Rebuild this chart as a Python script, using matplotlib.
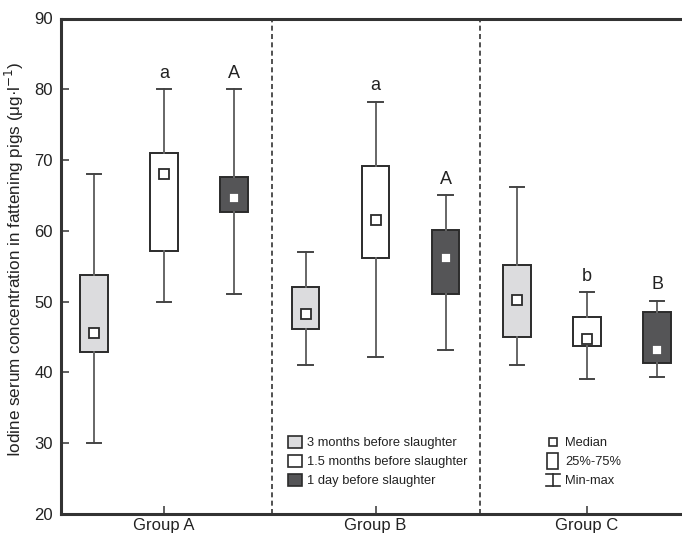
import matplotlib
matplotlib.use("Agg")
import matplotlib.pyplot as plt
from matplotlib.patches import Patch, Rectangle
from matplotlib.lines import Line2D
from matplotlib.legend_handler import HandlerBase

plt.rcParams['font.family'] = ['Liberation Sans', 'DejaVu Sans']

groups = ["Group A", "Group B", "Group C"]
periods = ["3 months before slaughter", "1.5 months before slaughter", "1 day before slaughter"]
colors = ["#dcdcde", "#ffffff", "#555557"]

# per group: [3 months, 1.5 months, 1 day]
mins = [[30.0, 50.0, 51.1], [41.1, 42.2, 43.2], [41.1, 39.1, 39.3]]
q1s = [[42.9, 57.2, 62.7], [46.2, 56.2, 51.1], [45.0, 43.7, 41.4]]
meds = [[45.6, 68.0, 64.6], [48.2, 61.5, 56.1], [50.3, 44.7, 43.2]]
q3s = [[53.7, 71.0, 67.6], [52.0, 69.1, 60.1], [55.2, 47.8, 48.6]]
maxs = [[68.0, 80.0, 80.0], [57.0, 78.2, 65.0], [66.2, 51.3, 50.1]]
letters = [["", "a", "A"], ["", "a", "A"], ["", "b", "B"]]

W, H = 682, 536
fig = plt.figure(figsize=(W / 100, H / 100), dpi=100)
ax = fig.add_axes([61 / W, (H - 514) / H, (W - 61) / W, (514 - 18.5) / H])

offsets = [-0.331, 0.0, 0.331]
ink = "#2b2b2b"
for gi in range(3):
    for pi in range(3):
        pos = gi + 1 + offsets[pi]
        st = dict(med=meds[gi][pi], q1=q1s[gi][pi], q3=q3s[gi][pi],
                  whislo=mins[gi][pi], whishi=maxs[gi][pi], fliers=[])
        ax.bxp([st], positions=[pos], widths=0.132, capwidths=0.07,
               patch_artist=True, showfliers=False,
               boxprops=dict(facecolor=colors[pi], edgecolor=ink, linewidth=1.4),
               whiskerprops=dict(color="#666666", linewidth=1.4),
               capprops=dict(color="#444444", linewidth=1.4),
               medianprops=dict(linewidth=0, color="none"),
               manage_ticks=False, zorder=3)
        ax.plot([pos], [meds[gi][pi]], marker='s', markersize=6.5,
                markerfacecolor='white', markeredgecolor=ink if pi < 2 else '#555557',
                markeredgewidth=1.3, zorder=5)
        if letters[gi][pi]:
            ax.text(pos, maxs[gi][pi] + 2.3, letters[gi][pi], ha='center', va='center',
                    fontsize=13, color='#222222')

for xv in [1.51, 2.494]:
    ax.axvline(xv, color="#333333", linestyle=(0, (3, 2)), linewidth=1.2, zorder=1)

ax.set_xlim(0.513, 3.449)
ax.set_ylim(20, 90)
ax.set_yticks(range(20, 91, 10))
ax.set_xticks([1, 2, 3])
ax.set_xticklabels(groups)
ax.tick_params(axis='both', direction='in', length=6, width=1.2, colors='#444444',
               labelsize=12, labelcolor='#222222')
ax.tick_params(axis='x', pad=3)
ax.tick_params(axis='y', pad=6)
ax.spines['right'].set_visible(False)
for s in ['left', 'bottom', 'top']:
    ax.spines[s].set_linewidth(2.2)
    ax.spines[s].set_color('#333333')
ax.set_ylabel("Iodine serum concentration in fattening pigs (μg·l$^{-1}$)",
              fontsize=12.3, color='#222222')
ax.yaxis.set_label_coords(-0.056, 0.515)


class MinMaxHandler(HandlerBase):
    def create_artists(self, legend, orig_handle, xdescent, ydescent, width, height,
                       fontsize, trans):
        cx = width / 2 - xdescent
        y0 = -ydescent
        y1 = height - ydescent
        hw = 5
        arts = [Line2D([cx, cx], [y0, y1], color=ink, lw=1.2, transform=trans),
                Line2D([cx - hw, cx + hw], [y0, y0], color=ink, lw=1.2, transform=trans),
                Line2D([cx - hw, cx + hw], [y1, y1], color=ink, lw=1.2, transform=trans)]
        return arts


class TallBoxHandler(HandlerBase):
    def create_artists(self, legend, orig_handle, xdescent, ydescent, width, height,
                       fontsize, trans):
        cx = width / 2 - xdescent
        w = 8
        h = height + 3
        r = Rectangle((cx - w / 2, -ydescent - 1.5), w, h, facecolor='white',
                      edgecolor=ink, lw=1.2, transform=trans)
        return [r]


class SmallSquareHandler(HandlerBase):
    def create_artists(self, legend, orig_handle, xdescent, ydescent, width, height,
                       fontsize, trans):
        cx = width / 2 - xdescent
        cy = height / 2 - ydescent
        s = 6
        r = Rectangle((cx - s / 2, cy - s / 2), s, s, facecolor='white',
                      edgecolor=ink, lw=1.2, transform=trans)
        return [r]


h1 = [Patch(facecolor=colors[i], edgecolor=ink, linewidth=1.2) for i in range(3)]
leg1 = ax.legend(h1, periods, loc='upper left', bbox_to_anchor=(288 / W, 1 - 436 / H),
                 bbox_transform=fig.transFigure, frameon=False, fontsize=9.3,
                 handlelength=1.05, handleheight=1.05, handletextpad=0.45,
                 labelspacing=0.42, borderpad=0, borderaxespad=0)
for t in leg1.get_texts():
    t.set_color('#222222')
ax.add_artist(leg1)

class _H1: pass
class _H2: pass
class _H3: pass
hh = [_H1(), _H2(), _H3()]
leg2 = ax.legend(hh, ["Median", "25%-75%", "Min-max"], loc='upper left',
                 bbox_to_anchor=(546 / W, 1 - 436 / H), bbox_transform=fig.transFigure,
                 frameon=False, fontsize=9.3, handlelength=1.05, handleheight=1.05,
                 handletextpad=0.45, labelspacing=0.42, borderpad=0, borderaxespad=0,
                 handler_map={_H1: SmallSquareHandler(), _H2: TallBoxHandler(),
                              _H3: MinMaxHandler()})
for t in leg2.get_texts():
    t.set_color('#222222')

fig.savefig("out.png", dpi=100)
